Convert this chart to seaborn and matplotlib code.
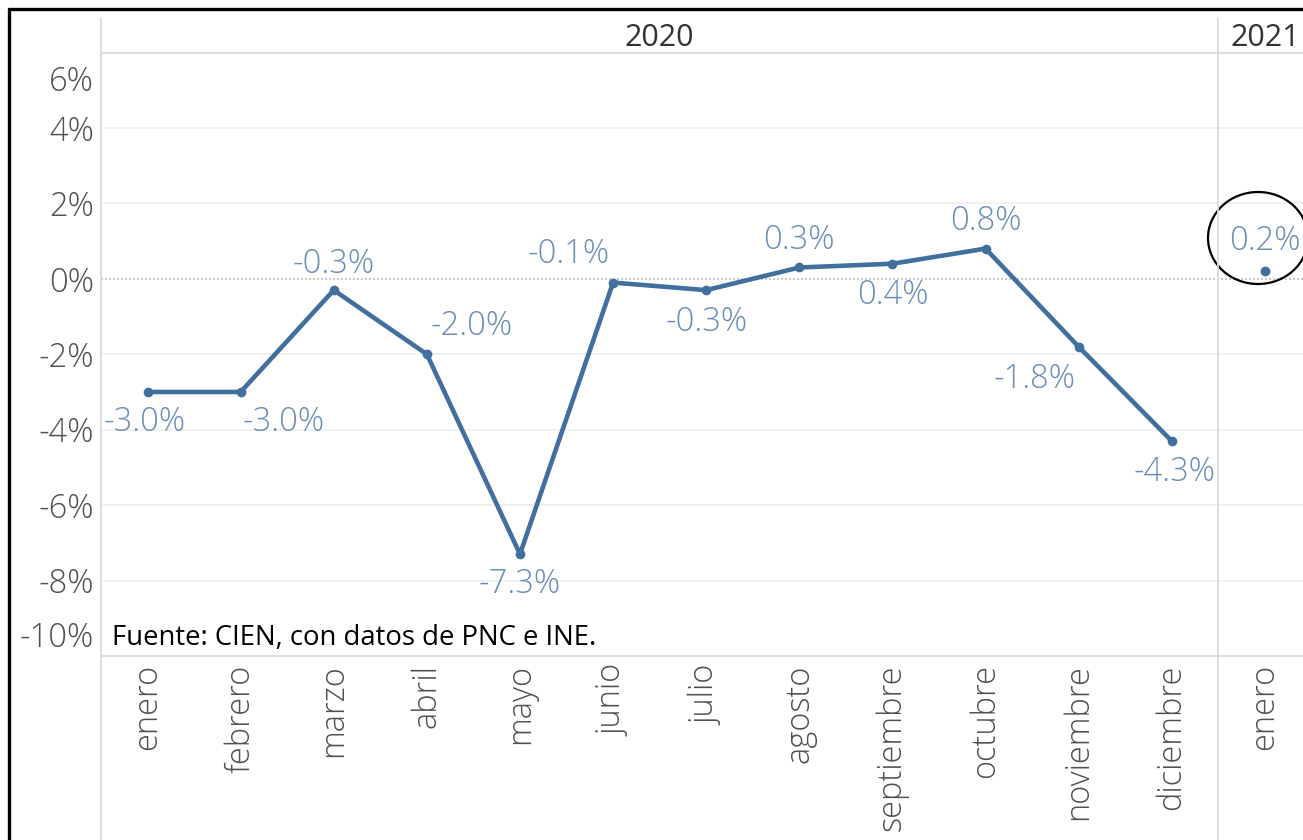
import numpy as np
import pandas as pd
import seaborn as sns
import matplotlib.pyplot as plt
import matplotlib.patches as mpatches
from matplotlib.lines import Line2D

# datos
meses_2020 = ['enero', 'febrero', 'marzo', 'abril', 'mayo', 'junio', 'julio',
              'agosto', 'septiembre', 'octubre', 'noviembre', 'diciembre']
valores_2020 = [-3.0, -3.0, -0.3, -2.0, -7.3, -0.1, -0.3, 0.3, 0.4, 0.8, -1.8, -4.3]
meses_2021 = ['enero']
valores_2021 = [0.2]
anios = ['2020', '2021']
yticks = [-10, -8, -6, -4, -2, 0, 2, 4, 6]

# desplazamiento de las etiquetas (pixeles) respecto al punto
offsets = [(-3, -30), (43, -30), (0, 26), (45, 28), (0, -30), (-45, 28),
           (0, -32), (0, 27), (0, -32), (0, 27), (-44, -33), (3, -31), (0, 30)]

W, H = 1303, 840
LINEA = '#41709f'
ETIQ = '#6b8db6'
GRIS = '#dadada'
TXT = '#505050'
FS = 23.5

sns.set_style('white')
plt.rcParams['font.family'] = ['Open Sans', 'DejaVu Sans']
plt.rcParams['font.weight'] = 'light'

fig = plt.figure(figsize=(W / 100, H / 100), dpi=100)
top, bottom, left = 52.5, 656, 101
ax = fig.add_axes([left / W, (H - bottom) / H, (W - left) / W, (bottom - top) / H])

df20 = pd.DataFrame({'pos': np.arange(len(meses_2020)), 'val': valores_2020})
df21 = pd.DataFrame({'pos': np.arange(len(meses_2021)) + len(meses_2020), 'val': valores_2021})

# lineas de fondo
for y in yticks[1:-1]:
    if y == 0:
        ax.axhline(y, color='#bdbdbd', lw=1.2, ls=(0, (1.2, 1.2)), zorder=1)
    else:
        ax.axhline(y, color='#efefef', lw=1.2, zorder=1)

sns.lineplot(data=df20, x='pos', y='val', color=LINEA, linewidth=3.3, marker='o',
             markersize=7, markeredgewidth=0, ax=ax, zorder=3)
sns.scatterplot(data=df21, x='pos', y='val', color=LINEA, s=50, linewidth=0, ax=ax, zorder=3)

xmax = 12.41
ax.set_xlim(-0.5, xmax)
ax.set_ylim(-10, 6)
for s in ax.spines.values():
    s.set_visible(False)

# etiquetas de datos
todos = valores_2020 + valores_2021
for i, (v, (dx, dy)) in enumerate(zip(todos, offsets)):
    ax.annotate(f'{v:.1f}%', xy=(i, v), xytext=(dx * 0.72, dy * 0.72),
                textcoords='offset points', ha='center', va='center',
                fontsize=FS, color=ETIQ, zorder=4)

# eje y
ax.set_yticks(yticks[1:-1])
ax.set_yticklabels([f'{t}%' for t in yticks[1:-1]])
ax.tick_params(axis='y', length=0, pad=5, labelsize=FS, labelcolor=TXT)
ax.annotate(f'{yticks[-1]}%', xy=(0, yticks[-1]), xycoords=('axes fraction', 'data'),
            xytext=(-5, -29.5 * 0.72), textcoords='offset points',
            ha='right', va='center', fontsize=FS, color=TXT, annotation_clip=False)
ax.annotate(f'{yticks[0]}%', xy=(0, yticks[0]), xycoords=('axes fraction', 'data'),
            xytext=(-5, 18 * 0.72), textcoords='offset points',
            ha='right', va='center', fontsize=FS, color=TXT, annotation_clip=False)

# eje x
ax.set_xticks(list(df20['pos']) + list(df21['pos']))
ax.set_xticklabels(meses_2020 + meses_2021, rotation=90, va='top', ha='center')
ax.tick_params(axis='x', length=0, pad=6, labelsize=FS, labelcolor=TXT)
ax.set_xlabel('')
ax.set_ylabel('')

# encabezado de anios
ax.text(5.5, 1.0, anios[0], transform=ax.get_xaxis_transform(), ha='center', va='bottom',
        fontsize=FS - 1.5, color='#333333', fontweight='normal')
ax.text(12, 1.0, anios[1], transform=ax.get_xaxis_transform(), ha='center', va='bottom',
        fontsize=FS - 1.5, color='#333333', fontweight='normal')

# lineas del marco tipo tableau
sep = left + 12 / (xmax + 0.5) * (W - left)
fig.add_artist(Line2D([left / W, left / W], [0, 1 - 18 / H], color=GRIS, lw=1.3))
fig.add_artist(Line2D([sep / W, sep / W], [0, 1 - 18 / H], color=GRIS, lw=1.3))
fig.add_artist(Line2D([left / W, 1], [1 - top / H, 1 - top / H], color=GRIS, lw=1.3))
fig.add_artist(Line2D([left / W, 1], [1 - bottom / H, 1 - bottom / H], color=GRIS, lw=1.3))

# fuente
fig.text(112 / W, 1 - 638 / H, 'Fuente: CIEN, con datos de PNC e INE.', ha='left', va='center',
         fontsize=19.8, color='black', fontweight='normal', family=['Open Sans', 'DejaVu Sans'])

# elipse alrededor del dato de 2021
fig.add_artist(mpatches.Ellipse((1258 / W, 1 - 238 / H), 100 / W, 92 / H,
                                transform=fig.transFigure, fill=False, ec='black', lw=1.6))

# borde negro
fig.add_artist(Line2D([9 / W, 1], [1 - 9 / H, 1 - 9 / H], color='black', lw=2.4))
fig.add_artist(Line2D([9 / W, 9 / W], [0, 1 - 9 / H], color='black', lw=2.4))

fig.savefig('out.png', dpi=100)
